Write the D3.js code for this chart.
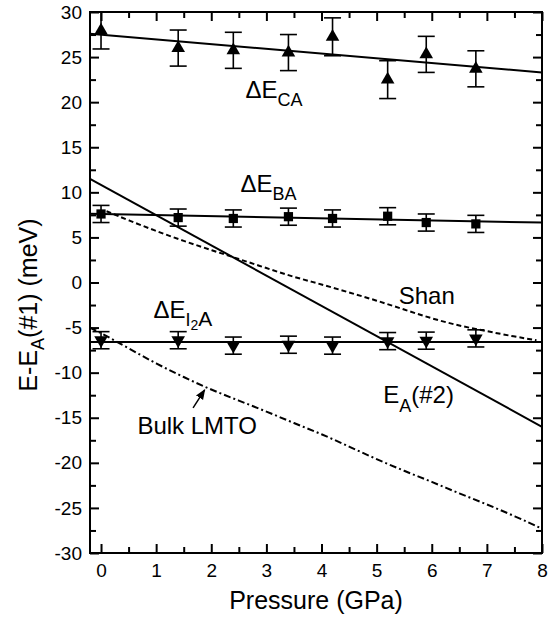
<!DOCTYPE html>
<html>
<head>
<meta charset="utf-8">
<script src="https://cdn.jsdelivr.net/npm/d3@7"></script>
<style>
body { margin: 0; background: #fff; }
text { font-family: "Liberation Sans", Arial, Helvetica, sans-serif; fill: #000; }
</style>
</head>
<body>
<div id="chart"></div>
<script>
// measured points (GPa)
var pressure = [0, 1.4, 2.4, 3.4, 4.2, 5.2, 5.9, 6.8];
var dECA = [27.95, 26.0, 25.75, 25.5, 27.25, 22.5, 25.3, 23.7];
var dECAerr = [2.05, 2.0, 2.0, 2.0, 2.1, 2.1, 2.0, 2.0];
var dEBA = [7.6, 7.2, 7.1, 7.3, 7.1, 7.35, 6.65, 6.5];
var dEBAerr = [0.95, 0.95, 0.95, 0.95, 0.95, 0.95, 0.95, 0.95];
var dEI2A = [-6.4, -6.4, -7.0, -6.9, -7.0, -6.5, -6.45, -6.2];
var dEI2Aerr = [0.95, 0.95, 0.95, 0.95, 0.95, 0.95, 0.95, 0.95];

// linear fits and E_A(#2)
var fitP = [-0.2, 8];
var fitCA = [27.6, 23.3];
var fitBA = [7.62, 6.65];
var fitI2A = [-6.6, -6.6];
var ea2 = [11.5, -16.0];

// Shan curve (dashed)
var shanP = [0.1, 0.5, 1, 1.5, 2, 2.5, 3, 3.5, 4, 4.5, 5, 5.5, 6, 6.5, 7, 7.5, 7.9];
var shanE = [7.9, 6.9, 5.7, 4.6, 3.6, 2.6, 1.6, 0.6, -0.2, -1.1, -2.0, -3.0, -4.0, -4.8, -5.4, -6.0, -6.4];

// bulk LMTO curve (dash-dot)
var lmtoP = [-0.2, 0, 0.5, 1, 1.5, 2, 2.5, 3, 3.5, 4, 4.5, 5, 5.5, 6, 6.5, 7, 7.5, 8];
var lmtoE = [-5.0, -5.6, -7.3, -9.0, -10.5, -11.9, -13.1, -14.3, -15.6, -16.8, -18.2, -19.6, -20.9, -22.1, -23.4, -24.6, -25.9, -27.3];

var xTicks = [0, 1, 2, 3, 4, 5, 6, 7, 8];
var yTicks = [-30, -25, -20, -15, -10, -5, 0, 5, 10, 15, 20, 25, 30];

var width = 556, height = 620;
var margin = {top: 12, right: 14, bottom: 67, left: 90};

var x = d3.scaleLinear().domain([-0.2, 8]).range([margin.left, width - margin.right]);
var y = d3.scaleLinear().domain([-30, 30]).range([height - margin.bottom, margin.top]);

var svg = d3.select("#chart").append("svg")
	.attr("width", width)
	.attr("height", height);

var x0 = margin.left, x1 = width - margin.right, y0 = height - margin.bottom, y1 = margin.top;

// axes, ticks inward on all sides
var minorX = d3.range(0.5, 8, 1);
var minorY = d3.range(-27.5, 30, 5);
function fmt(d) { return String(d); }

svg.append("g").attr("transform", "translate(0," + y0 + ")")
	.call(d3.axisBottom(x).tickValues(xTicks).tickSize(-9).tickPadding(11).tickFormat(fmt))
	.call(function(g) { g.selectAll("text").style("font-size", "19px"); });
svg.append("g").attr("transform", "translate(0," + y0 + ")")
	.call(d3.axisBottom(x).tickValues(minorX).tickSize(-6).tickFormat(""));
svg.append("g").attr("transform", "translate(0," + y1 + ")")
	.call(d3.axisTop(x).tickValues(xTicks).tickSize(-9).tickFormat(""));
svg.append("g").attr("transform", "translate(0," + y1 + ")")
	.call(d3.axisTop(x).tickValues(minorX).tickSize(-6).tickFormat(""));

svg.append("g").attr("transform", "translate(" + x0 + ",0)")
	.call(d3.axisLeft(y).tickValues(yTicks).tickSize(-9).tickPadding(8).tickFormat(fmt))
	.call(function(g) { g.selectAll("text").style("font-size", "19px"); });
svg.append("g").attr("transform", "translate(" + x0 + ",0)")
	.call(d3.axisLeft(y).tickValues(minorY).tickSize(-6).tickFormat(""));
svg.append("g").attr("transform", "translate(" + x1 + ",0)")
	.call(d3.axisRight(y).tickValues(yTicks).tickSize(-9).tickFormat(""));
svg.append("g").attr("transform", "translate(" + x1 + ",0)")
	.call(d3.axisRight(y).tickValues(minorY).tickSize(-6).tickFormat(""));

svg.selectAll(".domain").remove();
svg.selectAll(".tick line").attr("stroke", "#000").attr("stroke-width", 2);

svg.append("rect")
	.attr("x", x0).attr("y", y1)
	.attr("width", x1 - x0).attr("height", y0 - y1)
	.attr("fill", "none").attr("stroke", "#000").attr("stroke-width", 2);

// curves
var line = d3.line().x(function(d) { return x(d[0]); }).y(function(d) { return y(d[1]); });
var smooth = d3.line().x(function(d) { return x(d[0]); }).y(function(d) { return y(d[1]); }).curve(d3.curveBasis);
function pairs(a, b) { return a.map(function(v, i) { return [v, b[i]]; }); }

var plot = svg.append("g");

plot.append("path").datum(pairs(shanP, shanE)).attr("d", smooth)
	.attr("fill", "none").attr("stroke", "#000").attr("stroke-width", 2).attr("stroke-dasharray", "5,3");
plot.append("path").datum(pairs(lmtoP, lmtoE)).attr("d", smooth)
	.attr("fill", "none").attr("stroke", "#000").attr("stroke-width", 2).attr("stroke-dasharray", "7,3,2,3");

[fitCA, fitBA, fitI2A, ea2].forEach(function(f) {
	plot.append("path").datum(pairs(fitP, f)).attr("d", line)
		.attr("fill", "none").attr("stroke", "#000").attr("stroke-width", 2);
});

// error bars and markers
var series = [
	{vals: dECA, err: dECAerr, sym: d3.symbolTriangle, size: 80, rot: 0},
	{vals: dEBA, err: dEBAerr, sym: d3.symbolSquare, size: 85, rot: 0},
	{vals: dEI2A, err: dEI2Aerr, sym: d3.symbolTriangle, size: 80, rot: 180}
];
series.forEach(function(s) {
	var g = plot.append("g");
	var pts = pressure.map(function(p, i) { return {p: p, v: s.vals[i], e: s.err[i]}; });
	var eb = g.selectAll(".eb").data(pts).enter().append("g");
	eb.append("line")
		.attr("x1", function(d) { return x(d.p); }).attr("x2", function(d) { return x(d.p); })
		.attr("y1", function(d) { return y(d.v - d.e); }).attr("y2", function(d) { return y(d.v + d.e); })
		.attr("stroke", "#000").attr("stroke-width", 1.6);
	[-1, 1].forEach(function(sgn) {
		eb.append("line")
			.attr("x1", function(d) { return x(d.p) - 8.5; }).attr("x2", function(d) { return x(d.p) + 8.5; })
			.attr("y1", function(d) { return y(d.v + sgn * d.e); }).attr("y2", function(d) { return y(d.v + sgn * d.e); })
			.attr("stroke", "#000").attr("stroke-width", 1.6);
	});
	g.selectAll(".pt").data(pts).enter().append("path")
		.attr("d", d3.symbol().type(s.sym).size(s.size))
		.attr("transform", function(d) { return "translate(" + x(d.p) + "," + y(d.v) + ") rotate(" + s.rot + ")"; })
		.attr("fill", "#000");
});

// annotations
function label(px, py, parts) {
	var t = svg.append("text").attr("x", x(px)).attr("y", y(py));
	parts.forEach(function(p) {
		t.append("tspan").text(p[0]).style("font-size", p[1] + "px").attr("dy", p[2] || 0);
	});
	return t;
}
label(2.62, 20.46, [["\u0394E", 24], ["CA", 18, 8]]);
label(2.53, 10.08, [["\u0394E", 24], ["BA", 18, 8]]);
label(0.95, -3.96, [["\u0394E", 24], ["I", 18, 8], ["2", 14, 4], ["A", 21, -4]]);
label(5.4, -2.37, [["Shan", 24]]);
label(5.12, -13.35, [["E", 24], ["A", 18, 9], ["(#2)", 24, -9]]);
label(0.66, -16.8, [["Bulk LMTO", 24]]);

svg.append("defs").append("marker")
	.attr("id", "head").attr("viewBox", "0 0 10 10").attr("refX", 9).attr("refY", 5)
	.attr("markerWidth", 7).attr("markerHeight", 7).attr("orient", "auto")
	.append("path").attr("d", "M0,1 L10,5 L0,9 z").attr("fill", "#000");
svg.append("line")
	.attr("x1", x(1.67)).attr("y1", y(-13.9)).attr("x2", x(1.88)).attr("y2", y(-11.9))
	.attr("stroke", "#000").attr("stroke-width", 1.5).attr("marker-end", "url(#head)");

// axis titles
svg.append("text")
	.attr("x", (x0 + x1) / 2).attr("y", 609)
	.attr("text-anchor", "middle").style("font-size", "25px")
	.text("Pressure (GPa)");
var yt = svg.append("text")
	.attr("transform", "translate(37," + 305 + ") rotate(-90)")
	.attr("text-anchor", "middle").style("font-size", "25px");
yt.append("tspan").text("E-E");
yt.append("tspan").text("A").style("font-size", "18px").attr("dy", 7);
yt.append("tspan").text("(#1) (meV)").attr("dy", -7);
</script>
</body>
</html>
